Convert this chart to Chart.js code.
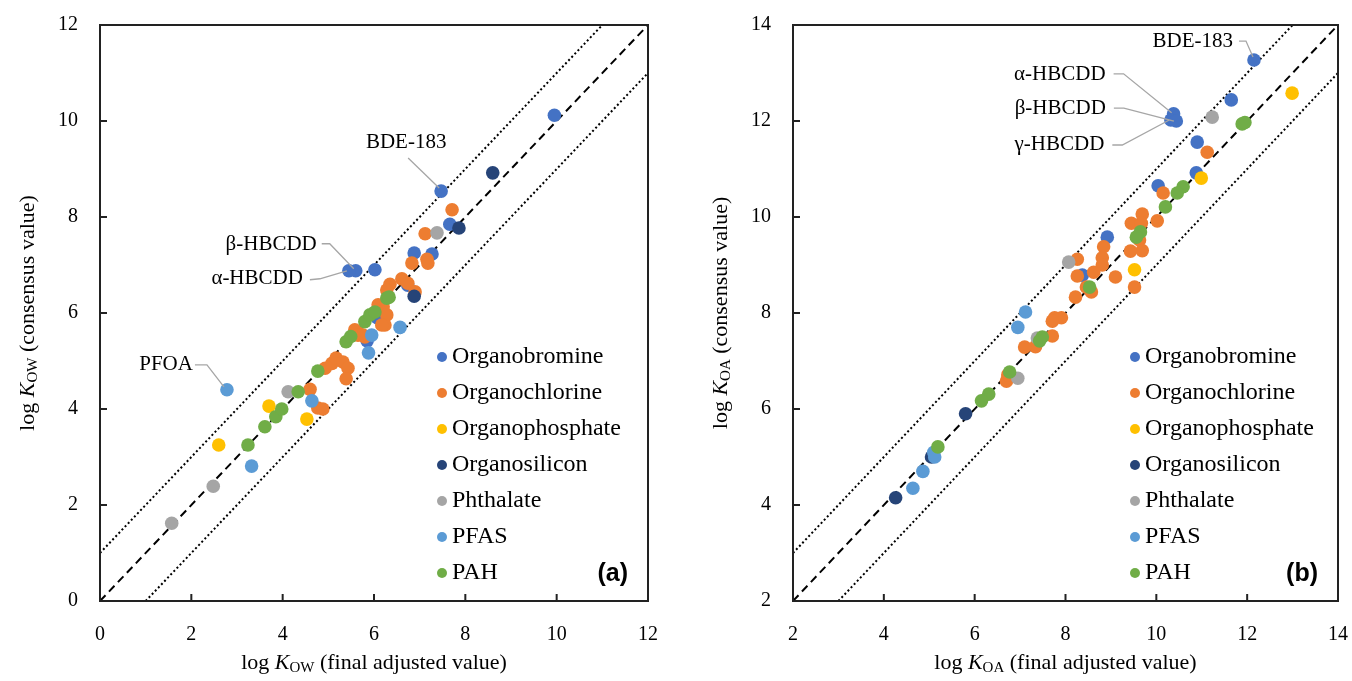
<!DOCTYPE html>
<html>
<head>
<meta charset="utf-8">
<script src="https://cdn.jsdelivr.net/npm/chart.js@4.4.1/dist/chart.umd.min.js"></script>
<style>
  body { margin: 0; background: #fff; }
  #wrap { position: relative; width: 1352px; height: 681px; }
  canvas { position: absolute; top: 0; }
  #panelA { left: 0; }
  #panelB { left: 676px; }
</style>
</head>
<body>
<div id="wrap">
  <canvas id="panelA" width="676" height="681"></canvas>
  <canvas id="panelB" width="676" height="681"></canvas>
</div>
<script>
// Chemical classes and marker colours
const classNames = ["Organobromine", "Organochlorine", "Organophosphate", "Organosilicon", "Phthalate", "PFAS", "PAH"];
const classColors = ["#4472C4", "#ED7D31", "#FFC000", "#264478", "#A5A5A5", "#5B9BD5", "#70AD47"];

// (a) log Kow: [final adjusted, consensus]
const kowBromine = [[9.95,10.12],[7.47,8.54],[5.60,6.88],[5.45,6.88],[6.02,6.90],[6.88,7.25],[7.27,7.23],[7.66,7.85],[6.74,6.58],[6.07,5.90],[5.85,5.42]];
const kowChlorine = [[7.71,8.15],[7.12,7.65],[6.83,7.04],[7.16,7.12],[7.18,7.04],[6.61,6.71],[6.74,6.62],[6.35,6.60],[6.28,6.48],[6.90,6.44],[6.20,6.13],[6.09,6.17],[6.28,5.96],[6.24,5.75],[6.17,5.75],[5.65,5.60],[5.58,5.65],[5.80,5.50],[4.60,4.41],[4.77,4.02],[4.88,4.00],[4.93,4.85],[5.08,4.95],[5.17,5.06],[5.32,4.98],[5.43,4.85],[5.39,4.63],[5.65,5.54],[5.76,5.54]];
const kowPhosphate = [[2.60,3.25],[3.70,4.06],[4.53,3.79]];
const kowSilicon = [[8.60,8.92],[7.86,7.77],[6.88,6.35]];
const kowPhthalate = [[7.38,7.67],[4.12,4.36],[2.48,2.39],[1.57,1.62]];
const kowPfas = [[2.78,4.40],[3.32,2.81],[4.64,4.17],[5.88,5.17],[5.95,5.54],[6.57,5.70]];
const kowPah = [[3.24,3.25],[3.61,3.63],[3.85,3.84],[3.98,4.00],[4.34,4.36],[4.77,4.79],[5.39,5.40],[5.49,5.51],[5.80,5.82],[5.91,5.96],[6.02,6.02],[6.28,6.31],[6.33,6.33]];

// (b) log Koa: [final adjusted, consensus]
const koaBromine = [[12.15,13.27],[10.38,12.15],[10.32,12.02],[10.44,12.00],[11.65,12.44],[10.90,11.56],[10.88,10.92],[10.04,10.65],[8.92,9.58],[8.37,8.79]];
const koaChlorine = [[11.12,11.35],[10.15,10.50],[9.69,10.06],[9.45,9.87],[9.67,9.87],[10.02,9.92],[9.63,9.52],[9.69,9.30],[9.43,9.29],[8.84,9.38],[8.81,9.15],[8.81,9.00],[8.26,9.12],[8.26,8.77],[8.62,8.85],[9.10,8.75],[8.46,8.54],[8.57,8.44],[8.22,8.33],[9.52,8.54],[7.76,7.90],[7.91,7.90],[7.71,7.83],[7.71,7.52],[7.34,7.30],[7.10,7.29],[6.70,6.58],[6.73,6.71]];
const koaPhosphate = [[12.99,12.58],[10.99,10.81],[9.52,8.90]];
const koaSilicon = [[5.80,5.90],[4.26,4.15],[5.05,5.00]];
const koaPhthalate = [[11.23,12.08],[8.07,9.06],[6.95,6.64],[7.38,7.48]];
const koaPfas = [[7.12,8.02],[6.95,7.70],[5.12,5.00],[5.10,5.10],[4.86,4.70],[4.64,4.35]];
const koaPah = [[11.89,11.94],[11.95,11.97],[10.59,10.63],[10.46,10.50],[10.20,10.21],[9.65,9.69],[9.56,9.58],[8.53,8.54],[7.49,7.50],[7.43,7.42],[6.77,6.77],[6.31,6.31],[6.15,6.17],[5.19,5.21]];

// axis ranges / ticks
const kowTicks = [0, 2, 4, 6, 8, 10, 12];
const koaTicks = [2, 4, 6, 8, 10, 12, 14];

// labelled compounds: class index, point index, text offset and leader path (px from the point)
const kowNotes = [
  { text: "BDE-183", cls: 0, idx: 1, tx: -35, ty: -49, align: "center", path: [[-33,-33],[-2,-3]] },
  { text: "β-HBCDD", cls: 0, idx: 2, tx: -39, ty: -26, align: "right", path: [[-34,-27],[-26,-27],[-2,-2]] },
  { text: "α-HBCDD", cls: 0, idx: 3, tx: -46, ty: 8, align: "right", path: [[-39,9],[-29,8],[-2,0]] },
  { text: "PFOA", cls: 5, idx: 0, tx: -34, ty: -25, align: "right", path: [[-32,-25],[-20,-25],[-3,-3]] }
];
const koaNotes = [
  { text: "BDE-183", cls: 0, idx: 0, tx: -21, ty: -19, align: "right", path: [[-15,-19],[-8,-19],[-1,-3]] },
  { text: "α-HBCDD", cls: 0, idx: 1, tx: -68, ty: -39, align: "right", path: [[-60,-40],[-50,-40],[-2,-1]] },
  { text: "β-HBCDD", cls: 0, idx: 2, tx: -65, ty: -12, align: "right", path: [[-57,-12],[-47,-12],[3,1]] },
  { text: "γ-HBCDD", cls: 0, idx: 3, tx: -72, ty: 23, align: "right", path: [[-64,24],[-54,24],[-7,-1]] }
];

const SERIF = "'Liberation Serif', 'Times New Roman', serif";

function scatterSets(series) {
  return series.map(function (pts, i) {
    return {
      type: "scatter",
      label: classNames[i],
      data: pts.map(p => ({ x: p[0], y: p[1] })),
      backgroundColor: classColors[i],
      borderColor: classColors[i],
      borderWidth: 0,
      pointRadius: 6.8,
      pointHoverRadius: 6.8,
      order: 10 - i
    };
  });
}

function refLine(x0, y0, x1, y1, dash, width) {
  return {
    type: "line",
    label: "",
    data: [{ x: x0, y: y0 }, { x: x1, y: y1 }],
    borderColor: "#000",
    borderWidth: width,
    borderDash: dash,
    pointRadius: 0,
    fill: false,
    order: 50
  };
}

// draws "log K_sub (rest)" with italic K and subscript
function drawTitle(ctx, sub, rest, cx, cy, rotate) {
  const size = 22;
  const parts = [
    { t: "log ", f: size + "px " + SERIF, dy: 0 },
    { t: "K", f: "italic " + size + "px " + SERIF, dy: 0 },
    { t: sub, f: Math.round(size * 0.66) + "px " + SERIF, dy: 5 },
    { t: " " + rest, f: size + "px " + SERIF, dy: 0 }
  ];
  let w = 0;
  parts.forEach(p => { ctx.font = p.f; p.w = ctx.measureText(p.t).width; w += p.w; });
  ctx.save();
  ctx.translate(cx, cy);
  if (rotate) ctx.rotate(-Math.PI / 2);
  ctx.fillStyle = "#000";
  ctx.textBaseline = "middle";
  ctx.textAlign = "left";
  let x = -w / 2;
  parts.forEach(p => { ctx.font = p.f; ctx.fillText(p.t, x, p.dy); x += p.w; });
  ctx.restore();
}

const decorPlugin = {
  id: "decor",
  afterDraw(chart, args, opts) {
    const ctx = chart.ctx;
    const a = chart.chartArea;
    const xs = chart.scales.x, ys = chart.scales.y;

    // leader lines and labels
    ctx.save();
    ctx.strokeStyle = "#A6A6A6";
    ctx.lineWidth = 1.3;
    ctx.fillStyle = "#000";
    ctx.font = "21px " + SERIF;
    ctx.textBaseline = "middle";
    opts.notes.forEach(function (n) {
      const p = chart.data.datasets[n.cls].data[n.idx];
      const px = xs.getPixelForValue(p.x), py = ys.getPixelForValue(p.y);
      ctx.beginPath();
      n.path.forEach(function (d, k) {
        if (k === 0) ctx.moveTo(px + d[0], py + d[1]);
        else ctx.lineTo(px + d[0], py + d[1]);
      });
      ctx.stroke();
      ctx.textAlign = n.align;
      ctx.fillText(n.text, px + n.tx, py + n.ty);
    });
    ctx.restore();

    // frame
    ctx.save();
    ctx.strokeStyle = "#222";
    ctx.lineWidth = 2;
    ctx.strokeRect(a.left, a.top, a.right - a.left, a.bottom - a.top);
    // inward tick marks
    ctx.beginPath();
    opts.ticks.forEach(function (v) {
      const tx = xs.getPixelForValue(v);
      ctx.moveTo(tx, a.bottom);
      ctx.lineTo(tx, a.bottom - 7);
      const ty = ys.getPixelForValue(v);
      ctx.moveTo(a.left, ty);
      ctx.lineTo(a.left + 7, ty);
    });
    ctx.stroke();
    ctx.restore();

    // legend in lower right of plot
    ctx.save();
    ctx.font = "24px " + SERIF;
    ctx.textBaseline = "middle";
    ctx.textAlign = "left";
    classNames.forEach(function (name, i) {
      const y = opts.legendY + i * 36;
      ctx.fillStyle = classColors[i];
      ctx.beginPath();
      ctx.arc(opts.legendX, y, 5, 0, Math.PI * 2);
      ctx.fill();
      ctx.fillStyle = "#000";
      ctx.fillText(name, opts.legendX + 10, y);
    });
    ctx.restore();

    // panel letter
    ctx.save();
    ctx.font = "bold 25px 'Liberation Sans', Arial, sans-serif";
    ctx.fillStyle = "#000";
    ctx.textAlign = "right";
    ctx.textBaseline = "middle";
    ctx.fillText(opts.letter, a.right - 20, a.bottom - 27);
    ctx.restore();

    // axis titles
    const mid = (a.left + a.right) / 2;
    drawTitle(ctx, opts.sub, opts.xRest, mid, a.bottom + 62, false);
    drawTitle(ctx, opts.sub, opts.yRest, a.left - 72, (a.top + a.bottom) / 2, true);
  }
};

function makePanel(id, series, lo, hi, ticks, notes, sub, padLeft, padRight, legendX, letter) {
  const datasets = scatterSets(series).concat([
    refLine(lo, lo, hi, hi, [8, 5], 2),
    refLine(lo, lo + 1, hi - 1, hi, [2, 2.5], 2),
    refLine(lo + 1, lo, hi, hi - 1, [2, 2.5], 2)
  ]);
  const tickFont = { family: SERIF, size: 20 };
  return new Chart(document.getElementById(id), {
    data: { datasets: datasets },
    plugins: [decorPlugin],
    options: {
      responsive: false,
      animation: false,
      events: [],
      layout: { padding: { top: 25, right: padRight, bottom: 0, left: padLeft } },
      scales: {
        x: {
          type: "linear", min: lo, max: hi,
          ticks: { stepSize: 2, font: tickFont, color: "#000", padding: 14 },
          grid: { display: false },
          border: { display: false },
          afterFit: function (s) { s.height = 80; s.paddingLeft = 0; s.paddingRight = 0; }
        },
        y: {
          type: "linear", min: lo, max: hi,
          ticks: { stepSize: 2, font: tickFont, color: "#000", padding: 14 },
          grid: { display: false },
          border: { display: false },
          afterFit: function (s) { s.width = 100; s.paddingTop = 0; s.paddingBottom = 0; }
        }
      },
      plugins: {
        legend: { display: false },
        tooltip: { enabled: false },
        decor: {
          notes: notes, ticks: ticks, sub: sub,
          xRest: "(final adjusted value)", yRest: "(consensus value)",
          legendX: legendX, legendY: 357, letter: letter
        }
      }
    }
  });
}

makePanel("panelA",
  [kowBromine, kowChlorine, kowPhosphate, kowSilicon, kowPhthalate, kowPfas, kowPah],
  0, 12, kowTicks, kowNotes, "OW", 0, 28, 442, "(a)");

makePanel("panelB",
  [koaBromine, koaChlorine, koaPhosphate, koaSilicon, koaPhthalate, koaPfas, koaPah],
  2, 14, koaTicks, koaNotes, "OA", 17, 14, 1135 - 676, "(b)");
</script>
</body>
</html>
